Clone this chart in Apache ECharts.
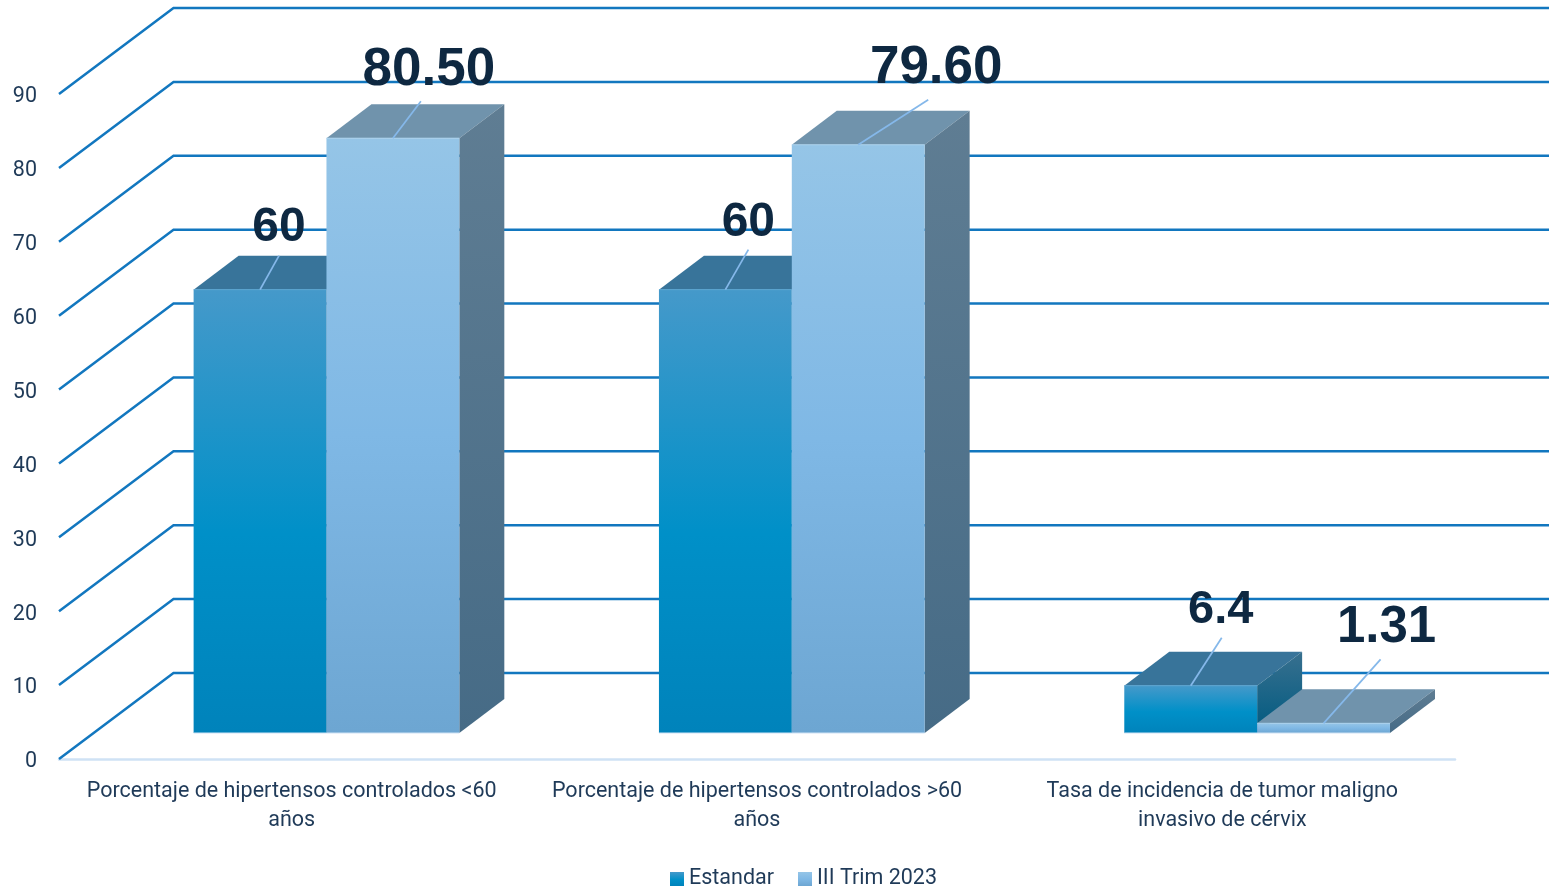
<!DOCTYPE html>
<html>
<head>
<meta charset="utf-8">
<title>Indicadores</title>
<script src="https://cdn.jsdelivr.net/npm/echarts@6/dist/echarts.min.js"></script>
<style>
    html, body { margin: 0; padding: 0; background: #fff; }
    #chart { width: 1549px; height: 888px; }
</style>
</head>
<body>
<div id="chart"></div>
<script>
var categories = [
    'Porcentaje de hipertensos controlados <60\naños',
    'Porcentaje de hipertensos controlados >60\naños',
    'Tasa de incidencia de tumor maligno\ninvasivo de cérvix'
];
var estandar = [60, 60, 6.4];
var trim2023 = [80.5, 79.6, 1.31];
var estandarLabels = ['60', '60', '6.4'];
var trim2023Labels = ['80.50', '79.60', '1.31'];
var yTicks = [0, 10, 20, 30, 40, 50, 60, 70, 80, 90];

// manual placement of the data labels, relative to the middle of the bar's top front edge
var estandarLeader = [[19, -34], [23, -40], [31, -48]];
var trimLeader = [[28, -37], [70, -45], [57, -64]];
var estandarLabelPos = [[19, -62], [23, -67], [30, -76]];
var trimLabelPos = [[36, -68], [78, -76], [63, -95]];
var estandarLabelSize = [48, 48, 47];
var trimLabelSize = [53, 53, 51];

// fake 3D: how far the back wall sits from the front plane
var wallDx = 114.5, wallDy = 86;
var gapDx = 34.8, gapDy = 26;
var barDepthDx = 45, barDepthDy = 34;

var textColor = '#1f3a58';
var labelColor = '#0e2841';
var fontName = 'Roboto';

function grad(stops) {
    return new echarts.graphic.LinearGradient(0, 0, 0, 1, stops.map(function (s) {
        return {offset: s[0], color: s[1]};
    }));
}

var estandarStyle = {
    front: [[0, '#4599ca'], [0.55, '#0090c8'], [1, '#0083bb']],
    top: '#38749a',
    side: [[0, '#38708f'], [1, '#005a80']],
    edge: '#5aa5d2'
};
var trimStyle = {
    front: [[0, '#95c5e7'], [0.5, '#7fb8e5'], [1, '#6da6d2']],
    top: '#7093ac',
    side: [[0, '#5f7d93'], [1, '#466b86']],
    edge: '#a9d0ec'
};

function renderWall(params, api) {
    var cs = params.coordSys;
    var y = api.coord([0, api.value(1)])[1];
    var x0 = cs.x;
    var x1 = cs.x + wallDx;
    var x2 = cs.x + cs.width + wallDx;
    var yb = y - wallDy;
    return {
        type: 'polyline',
        shape: {points: [[x0, y], [x1, yb], [x2, yb]]},
        style: {stroke: '#1277bf', lineWidth: 2.5, fill: null}
    };
}

function makeBarRenderer(seriesIndex, texts, leaders, labelPos, labelSize, look) {
    return function (params, api) {
        var i = params.dataIndex;
        var base = api.coord([api.value(0), 0]);
        var top = api.coord([api.value(0), api.value(1)]);
        var band = api.size([1, 0])[0];
        var w = band * 0.2855;
        var left = base[0] + gapDx - w + seriesIndex * w;
        var right = left + w;
        var yTop = top[1] - gapDy;
        var yBase = base[1] - gapDy;
        var mid = left + w / 2;
        var lead = leaders[i];
        var pos = labelPos[i];
        return {
            type: 'group',
            children: [{
                // top face
                type: 'polygon',
                shape: {points: [[left, yTop], [right, yTop], [right + barDepthDx, yTop - barDepthDy], [left + barDepthDx, yTop - barDepthDy]]},
                style: {fill: look.top}
            }, {
                // right side
                type: 'polygon',
                shape: {points: [[right, yTop], [right + barDepthDx, yTop - barDepthDy], [right + barDepthDx, yBase - barDepthDy], [right, yBase]]},
                style: {fill: grad(look.side)}
            }, {
                type: 'rect',
                shape: {x: left, y: yTop, width: w, height: yBase - yTop},
                style: {fill: grad(look.front)}
            }, {
                type: 'line',
                shape: {x1: left, y1: yTop, x2: right, y2: yTop},
                style: {stroke: look.edge, lineWidth: 1}
            }, {
                type: 'line',
                shape: {x1: left, y1: yBase, x2: right, y2: yBase},
                style: {stroke: '#cfe2f5', lineWidth: 1}
            }, {
                type: 'line',
                shape: {x1: mid, y1: yTop, x2: mid + lead[0], y2: yTop + lead[1]},
                style: {stroke: '#85b8ea', lineWidth: 1.75}
            }, {
                type: 'text',
                x: mid + pos[0],
                y: yTop + pos[1],
                style: {
                    text: texts[i],
                    fontFamily: 'Liberation Sans',
                    fontWeight: 'bold',
                    fontSize: labelSize[i],
                    fill: labelColor,
                    align: 'center',
                    verticalAlign: 'middle'
                }
            }]
        };
    };
}

function toRows(values) {
    return values.map(function (v, i) {
        return [i, v];
    });
}

var chart = echarts.init(document.getElementById('chart'), null, {renderer: 'canvas'});

chart.setOption({
    animation: false,
    backgroundColor: '#fff',
    grid: {left: 59, right: 94, top: 94, bottom: 129, containLabel: false},
    legend: {
        left: 670,
        top: 868,
        padding: 0,
        itemWidth: 14,
        itemHeight: 14,
        itemGap: 24,
        icon: 'rect',
        data: ['Estandar', 'III Trim 2023'],
        textStyle: {fontFamily: fontName, fontSize: 21.5, color: textColor}
    },
    xAxis: {
        type: 'category',
        data: categories,
        axisTick: {show: false},
        axisLine: {lineStyle: {color: '#cfe2f5', width: 2.5}},
        axisLabel: {
            interval: 0,
            margin: 18,
            fontFamily: fontName,
            fontSize: 21.5,
            lineHeight: 29,
            color: textColor
        }
    },
    yAxis: {
        type: 'value',
        min: 0,
        max: 90,
        interval: 10,
        axisLine: {show: false},
        axisTick: {show: false},
        splitLine: {show: false},
        axisLabel: {
            margin: 22,
            formatter: '{tick|{value}}',
            rich: {
                tick: {
                    padding: [6, 0, 0, 0],
                    fontFamily: fontName,
                    fontSize: 21.5,
                    color: textColor
                }
            }
        }
    },
    series: [{
        name: 'wall',
        type: 'custom',
        silent: true,
        z: 1,
        data: yTicks.map(function (t) { return [0, t]; }),
        encode: {x: 0, y: 1},
        renderItem: renderWall
    }, {
        name: 'Estandar',
        type: 'custom',
        z: 2,
        itemStyle: {color: grad(estandarStyle.front)},
        data: toRows(estandar),
        encode: {x: 0, y: 1},
        renderItem: makeBarRenderer(0, estandarLabels, estandarLeader, estandarLabelPos, estandarLabelSize, estandarStyle)
    }, {
        name: 'III Trim 2023',
        type: 'custom',
        z: 3,
        itemStyle: {color: grad(trimStyle.front)},
        data: toRows(trim2023),
        encode: {x: 0, y: 1},
        renderItem: makeBarRenderer(1, trim2023Labels, trimLeader, trimLabelPos, trimLabelSize, trimStyle)
    }]
});
</script>
</body>
</html>
